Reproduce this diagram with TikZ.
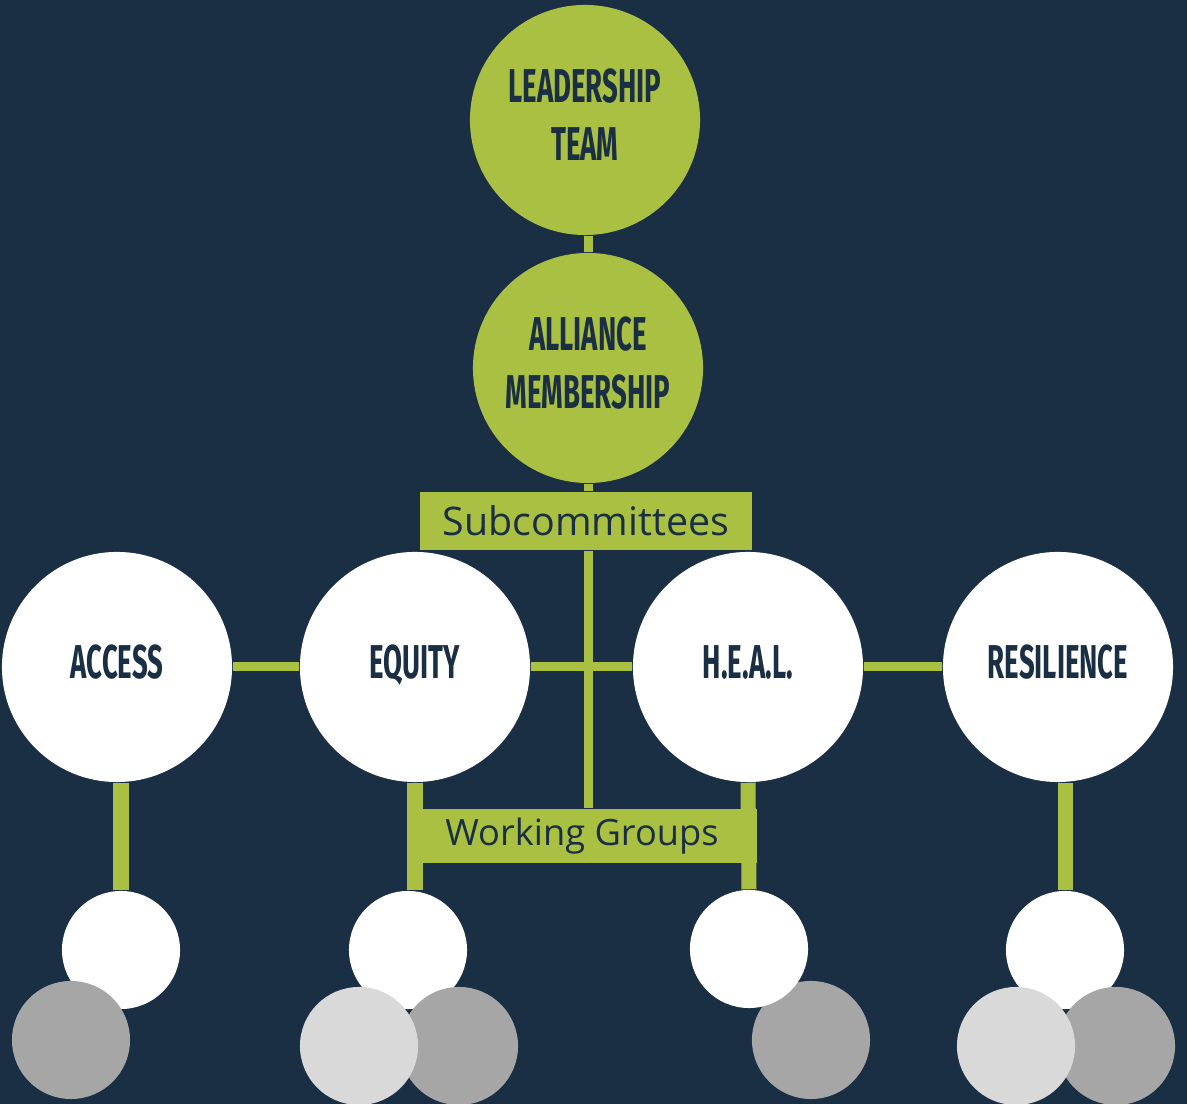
\documentclass[tikz,border=0pt]{standalone}
\usepackage{fontspec}
\newfontfamily\capsfont{Fira Sans}[FakeStretch=0.58]
\newfontfamily\labelfont{Open Sans}
\definecolor{navy}{HTML}{1A2E44}
\definecolor{leaf}{HTML}{AAC043}
\definecolor{lightgrey}{HTML}{D9D9D9}
\definecolor{midgrey}{HTML}{A6A6A6}
\begin{document}
\begin{tikzpicture}[x=0.01cm, y=-0.01cm,
  bigcircle/.style={circle, minimum size=2.3cm, inner sep=0pt, align=center,
    text=navy, text depth=0.1cm, font=\capsfont\bfseries\fontsize{13.5}{16.5}\selectfont},
  topcircle/.style={bigcircle, fill=leaf},
  subcircle/.style={bigcircle, fill=white},
  groupdot/.style={circle, minimum size=1.18cm, inner sep=0pt},
  bar/.style={fill=leaf, inner sep=0pt, text=navy},
  link/.style={leaf, line width=0.09cm},
  wlink/.style={leaf, line width=0.15cm}]
\clip (0,0) rectangle (1187,1104);
\fill[navy] (0,0) rectangle (1187,1104);
% top of the tree
\node (lead) [topcircle] at (585,120) {LEADERSHIP\\TEAM};
\node (alli) [topcircle] at (588,368) {ALLIANCE\\MEMBERSHIP};
\node (subc) [bar, minimum width=3.31cm, minimum height=0.58cm,
  font=\labelfont\fontsize{11.2}{13}\selectfont] at (586,521) {Subcommittees};
% subcommittees
\node (access) [subcircle] at (117,667) {ACCESS};
\node (equity) [subcircle] at (415,667) {EQUITY};
\node (heal) [subcircle] at (748,667) {H.E.A.L.};
\node (resil) [subcircle] at (1058,667) {RESILIENCE};
\node (wg) [bar, minimum width=3.49cm, minimum height=0.54cm,
  font=\labelfont\fontsize{10.3}{12}\selectfont] at (582,836) {Working Groups};
% working group dots
\node (accw) [groupdot, fill=white] at (121,950) {};
\node (accg) [groupdot, fill=midgrey] at (71,1040) {};
\node (equw) [groupdot, fill=white] at (408,950) {};
\node (equd) [groupdot, fill=midgrey] at (459,1046) {};
\node (equl) [groupdot, fill=lightgrey] at (359,1046) {};
\node (healg) [groupdot, fill=midgrey] at (811,1040) {};
\node (healw) [groupdot, fill=white] at (749,949) {};
\node (resw) [groupdot, fill=white] at (1065,950) {};
\node (resd) [groupdot, fill=midgrey] at (1116,1046) {};
\node (resl) [groupdot, fill=lightgrey] at (1016,1046) {};
% connectors
\draw[link] (alli.north) -- (alli.north |- lead.south);
\draw[link] (alli.south) -- (alli.south |- subc.north);
\draw[link] (alli.south |- subc.south) -- (alli.south |- wg.north);
\draw[link] (access) -- (equity);
\draw[link] (equity) -- (heal);
\draw[link] (heal) -- (resil);
\draw[wlink] (accw.north |- access.south) -- (accw.north);
\draw[wlink] (equity.south) -- (equity.south |- equw.north);
\draw[wlink] (heal.south) -- (healw.north);
\draw[wlink] (resw.north |- resil.south) -- (resw.north);
\end{tikzpicture}
\end{document}
